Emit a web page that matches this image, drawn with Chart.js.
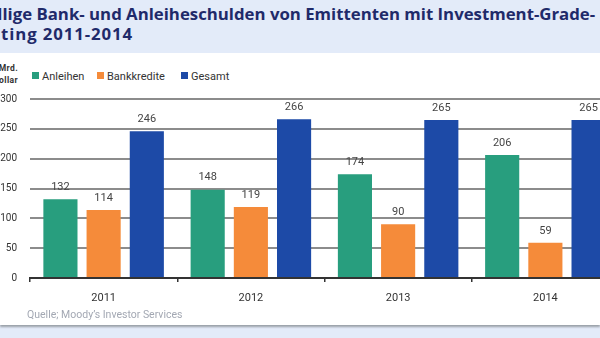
<!DOCTYPE html>
<html>
<head>
<meta charset="utf-8">
<script src="https://cdn.jsdelivr.net/npm/chart.js@4"></script>
<style>
  html,body{margin:0;padding:0;width:600px;height:338px;overflow:hidden;background:#e3ebf9;}
  body{position:relative;font-family:Roboto,"Noto Sans",sans-serif;}
  #title{position:absolute;left:-22px;top:4px;font-family:"Open Sans",sans-serif;font-weight:bold;font-size:16.8px;line-height:20px;color:#1f2a6a;white-space:nowrap;}
  #title .l2{letter-spacing:0.9px;}
  #panel{position:absolute;left:0;top:53px;width:600px;height:272px;background:#fff;box-shadow:0 2px 2px #9aa0a8;}
  #unit{position:absolute;left:-12px;top:62px;width:30px;text-align:right;font-size:8.5px;font-weight:bold;line-height:12px;letter-spacing:0.4px;color:#333;}
  #legend{position:absolute;left:32px;top:70px;font-size:11px;color:#333;}
  #legend span.item{position:absolute;white-space:nowrap;}
  #legend i{display:inline-block;width:7px;height:7px;margin-right:3px;vertical-align:1px;}
  #wrap{position:absolute;left:0;top:55px;width:640px;height:270px;}
  #src{position:absolute;left:27px;top:308px;font-size:10.5px;color:#a3a8b3;white-space:nowrap;}
</style>
</head>
<body>
<div id="title">Fällige Bank- und Anleiheschulden von Emittenten mit Investment-Grade-<br><span class="l2">Rating 2011-2014</span></div>
<div id="panel"></div>
<div id="unit">Mrd.<br>Dollar</div>
<div id="legend"></div>
<div id="wrap"><canvas id="c" width="640" height="270"></canvas></div>
<div id="src">Quelle; Moody’s Investor Services</div>
<script>
// values (Mrd. Dollar)
const years = ['2011', '2012', '2013', '2014'];
const anleihen = [132, 148, 174, 206];
const bankkredite = [114, 119, 90, 59];
const gesamt = [246, 266, 265, 265];
const seriesNames = ['Anleihen', 'Bankkredite', 'Gesamt'];
const seriesColors = ['#289e7e', '#f58b3a', '#1d4aa7'];
const yTicks = [0, 50, 100, 150, 200, 250, 300];

// html legend
const legendX = [0, 65, 149];
const lg = document.getElementById('legend');
seriesNames.forEach((n, i) => {
  const s = document.createElement('span');
  s.className = 'item';
  s.style.left = legendX[i] + 'px';
  s.innerHTML = '<i style="background:' + seriesColors[i] + '"></i>' + n;
  lg.appendChild(s);
});

// value labels above bars
const valueLabels = {
  id: 'valueLabels',
  afterDatasetsDraw(chart) {
    const ctx = chart.ctx;
    ctx.save();
    ctx.font = '11px Roboto, "Noto Sans", sans-serif';
    ctx.fillStyle = '#444';
    ctx.textAlign = 'center';
    ctx.textBaseline = 'middle';
    chart.data.datasets.forEach((ds, i) => {
      chart.getDatasetMeta(i).data.forEach((bar, j) => {
        ctx.fillText(ds.data[j], bar.x, bar.y - 12);
      });
    });
    ctx.restore();
  }
};

const data = [anleihen, bankkredite, gesamt];
new Chart(document.getElementById('c'), {
  type: 'bar',
  data: {
    labels: years,
    datasets: seriesNames.map((n, i) => ({
      label: n,
      data: data[i],
      backgroundColor: seriesColors[i],
      categoryPercentage: 0.88,
      barPercentage: 0.79
    }))
  },
  options: {
    responsive: false,
    devicePixelRatio: 1,
    animation: false,
    layout: { padding: { top: 44, right: 21, left: 0, bottom: 0 } },
    plugins: { legend: { display: false }, tooltip: { enabled: false } },
    scales: {
      x: {
        afterFit(s) { s.height = 47; },
        grid: { display: true, drawOnChartArea: false, drawTicks: true, tickLength: 4, color: '#333', lineWidth: 1.5 },
        border: { display: true, color: '#333', width: 2 },
        ticks: { color: '#333', font: { size: 11, family: 'Roboto' }, padding: 10 }
      },
      y: {
        min: 0, max: 300,
        afterFit(s) { s.width = 30; },
        afterBuildTicks(s) { s.ticks = yTicks.map(v => ({ value: v })); },
        grid: { color: '#8c8c8c', lineWidth: 2, drawTicks: false },
        border: { display: false },
        ticks: { color: '#333', font: { size: 10, family: 'Roboto' }, padding: 13 }
      }
    }
  },
  plugins: [valueLabels]
});
</script>
</body>
</html>
